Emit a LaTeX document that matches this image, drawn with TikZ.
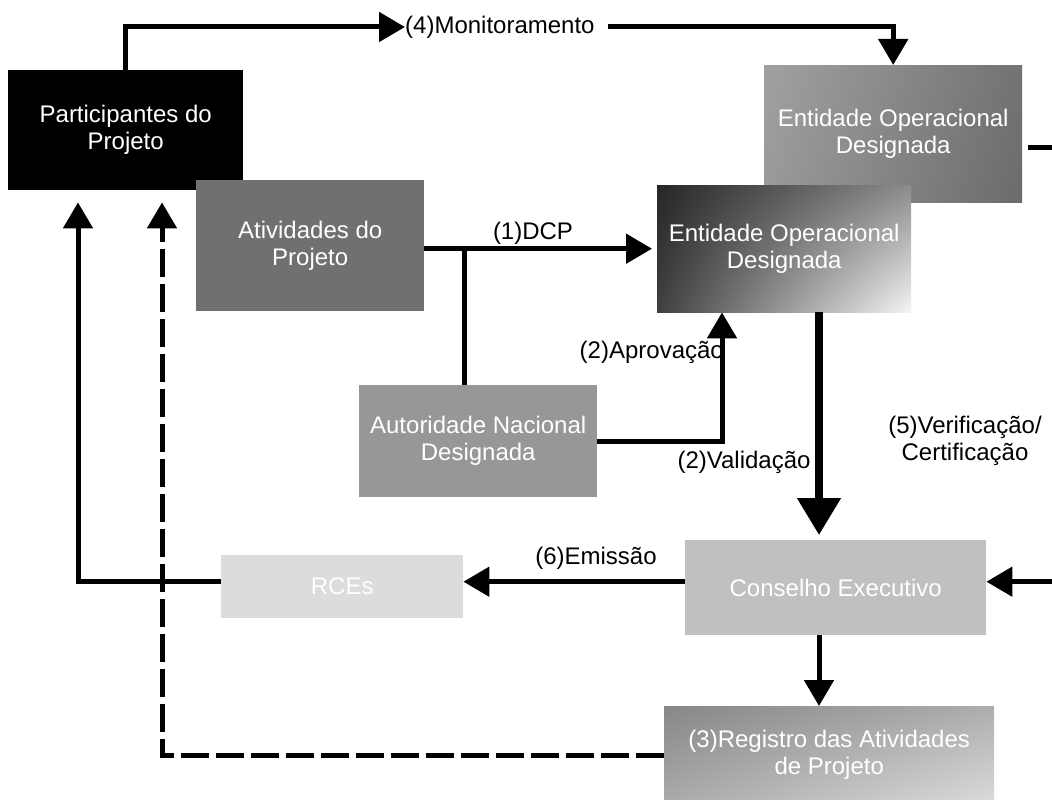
\documentclass[tikz,border=0pt]{standalone}
\usepackage{fontspec}
\setmainfont{Liberation Sans}
\usetikzlibrary{arrows.meta,shadings}
\definecolor{ativgray}{HTML}{707070}
\definecolor{andagray}{HTML}{979797}
\definecolor{consgray}{HTML}{C0C0C0}
\definecolor{rcegray}{HTML}{DCDCDC}

\begin{document}
\begin{tikzpicture}[x=1pt, y=-1pt, font=\fontsize{24}{27}\selectfont,
		box/.style={anchor=north west, inner sep=0pt, text=white, align=center},
		l_0/.style={line width=5pt},
		l_1/.style={line width=5pt, -{Triangle[length=26pt,width=29pt]}},
		l_2/.style={line width=8pt, -{Triangle[length=37pt,width=42pt]}},
		l_3/.style={l_1, dash pattern=on 28pt off 7pt}]
		\useasboundingbox (0,0) rectangle (1052,800);
		\clip (0,0) rectangle (1052,800);
		% boxes
		\node[box, fill=black, minimum width=235pt, minimum height=120pt] (part) at (8,70) {Participantes do\\Projeto};
		\node[box, fill=ativgray, minimum width=228pt, minimum height=131pt] (ativ) at (196,180) {Atividades do\\Projeto};
		\node[box, minimum width=258pt, minimum height=137pt, shade, shading=bilinear interpolation,
			upper left=black!37, lower left=black!40, upper right=black!55, lower right=black!58] (eod1) at (764,65) {Entidade Operacional\\Designada};
		\node[box, minimum width=254pt, minimum height=127pt, shade, shading=bilinear interpolation,
			upper left=black!85, lower left=black!75, upper right=black!45, lower right=black!4] (eod2) at (657,185) {Entidade Operacional\\Designada};
		\node[box, fill=andagray, minimum width=238pt, minimum height=112pt] (anda) at (359,385) {Autoridade Nacional\\Designada};
		\node[box, fill=consgray, minimum width=301pt, minimum height=95pt] (cons) at (685,540) {Conselho Executivo};
		\node[box, fill=rcegray, minimum width=242pt, minimum height=63pt] (rces) at (221,555) {RCEs};
		\node[box, minimum width=330pt, minimum height=98pt, shade, shading=bilinear interpolation,
			upper left=black!47, lower left=black!33, upper right=black!32, lower right=black!14] (reg) at (664,706) {(3)Registro das Atividades\\de Projeto};
		
		% labels
		\node[anchor=west, inner sep=0pt] (monit) at (405,27) {(4)Monitoramento};
		\node (dcp) at (533,233) {(1)DCP};
		\node[anchor=east, inner sep=0pt] (aprov) at (724,352) {(2)Aprovação};
		\node (valid) at (744,462) {(2)Validação};
		\node[align=center] (verif) at (965,441) {(5)Verificação/\\Certificação};
		\node (emiss) at (596,558) {(6)Emissão};
		
		% arrows
		\coordinate (jn) at ([xshift=40pt]ativ.east |- eod2.west);
		\coordinate (ev) at ([xshift=162pt]eod2.south west);
		\coordinate (cv) at ([xshift=134pt]cons.south west);
		\coordinate (ce) at ([yshift=6pt]cons.east);
		\coordinate (rt) at (1055,0);
		
		\draw[l_1] (part.north) |- (monit.west);
		\draw[l_1, shorten <=13pt] (monit.east) -| (eod1.north);
		\draw[l_1, shorten >=5pt] (ativ.east |- eod2.west) -- (eod2.west);
		\draw[l_0] (jn) -- (jn |- anda.north);
		\draw[l_1] (anda.east) -| ([xshift=65pt]eod2.south west);
		\draw[l_2, shorten >=5pt] (ev) -- (ev |- cons.north);
		\draw[l_1, shorten <=6pt] ([yshift=-14pt]eod1.east) -| (rt |- ce) -- (ce);
		\draw[l_1] (cons.west |- ce) -- (rces.east |- ce);
		\draw[l_1, shorten >=12pt] (rces.west |- ce) -| ([xshift=70pt]part.south west);
		\draw[l_1] (cv) -- (cv |- reg.north);
		\draw[l_3, shorten >=12pt] (reg.west) -| ([xshift=154pt]part.south west);
		\end{tikzpicture}
\end{document}
